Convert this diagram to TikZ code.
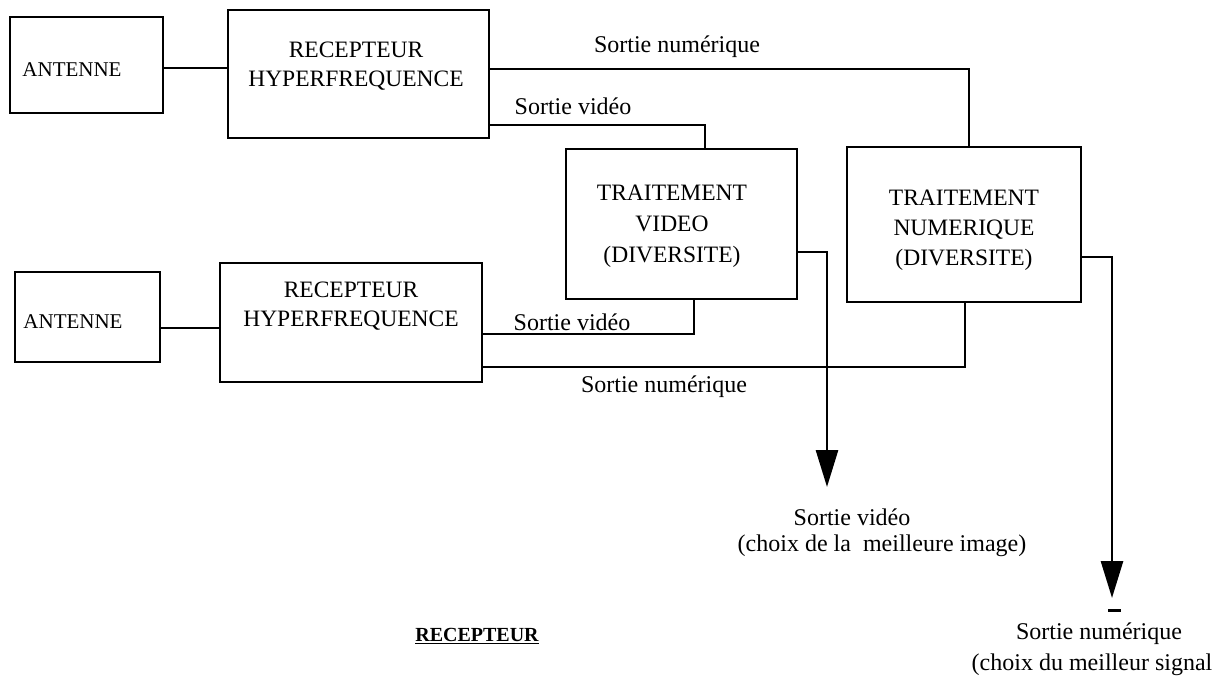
\documentclass[tikz,border=0pt]{standalone}
\usepackage{fontspec}
\setmainfont{Liberation Serif}
\usetikzlibrary{arrows.meta}
\begin{document}
\begin{tikzpicture}[x=1pt,y=-1pt,
  box/.style={draw, line width=2.8pt, inner sep=0pt},
  wire/.style={line width=2.8pt, line join=miter},
  lbl/.style={font=\fontsize{24}{28}\selectfont, inner sep=0pt},
  btxt/.style={font=\fontsize{23.5}{29}\selectfont, align=center, inner sep=0pt},
  arr/.style={wire, -{Triangle[length=37pt,width=22pt]}}]
\useasboundingbox (0,0) rectangle (1224,680);
% boxes
\node[box, minimum width=153pt, minimum height=96pt] (ant1) at (86.5,65) {};
\node[box, minimum width=261pt, minimum height=128pt] (rec1) at (358.5,74) {};
\node[box, minimum width=145pt, minimum height=90pt] (ant2) at (87.5,317) {};
\node[box, minimum width=262pt, minimum height=119pt] (rec2) at (351,322.5) {};
\node[box, minimum width=231pt, minimum height=150pt] (vid) at (681.5,224) {};
\node[box, minimum width=234pt, minimum height=155pt] (num) at (964,224.5) {};
% box texts
\node[btxt, font=\fontsize{21}{29}\selectfont] (ant1t) at (72,70) {ANTENNE};
\node[btxt] (rec1t) at (356,66) {RECEPTEUR\\HYPERFREQUENCE};
\node[btxt, font=\fontsize{21}{29}\selectfont] (ant2t) at (73,322) {ANTENNE};
\node[btxt] (rec2t) at (351,306) {RECEPTEUR\\HYPERFREQUENCE};
\node[btxt, font=\fontsize{23.5}{31}\selectfont] (vidt) at (672,226) {TRAITEMENT\\VIDEO\\(DIVERSITE)};
\node[btxt, font=\fontsize{23.5}{30}\selectfont] (numt) at (964,230) {TRAITEMENT\\NUMERIQUE\\(DIVERSITE)};
% helper coordinates
\path ([yshift=-3pt]ant1.east) coordinate (a1);
\path ([yshift=-11pt]ant2.east) coordinate (a2);
\coordinate (n1) at (969,69);
\coordinate (v1) at (705,125);
\coordinate (v2) at (694,334);
\coordinate (n2) at (965,367);
\coordinate (vo) at (827,252);
\coordinate (vt) at (827,487);
\coordinate (no) at (1112,257);
\coordinate (nt) at (1112,598);
\coordinate (bl) at (1108,610);
\coordinate (br) at (1121,610);
% connectors
\draw[wire] (a1) -- (a1 -| rec1.west);
\draw[wire] (a2) -- (a2 -| rec2.west);
\draw[wire] (rec1.east |- n1) -- (n1) -- (n1 |- num.north);
\draw[wire] (rec1.east |- v1) -- (v1) -- (v1 |- vid.north);
\draw[wire] (v2 |- vid.south) -- (v2) -- (v2 -| rec2.east);
\draw[wire] (n2 |- num.south) -- (n2) -- (n2 -| rec2.east);
\draw[arr] (vid.east |- vo) -- (vo) -- (vt);
\draw[arr] (num.east |- no) -- (no) -- (nt);
\draw[line width=3pt] (bl) -- (br);
% labels
\node[lbl] (l1) at (677,47) {Sortie numérique};
\node[lbl] (l2) at (573,106) {Sortie vidéo};
\node[lbl] (l3) at (572,322) {Sortie vidéo};
\node[lbl] (l4) at (664,387) {Sortie numérique};
\node[lbl] (l5) at (852,517) {Sortie vidéo};
\node[lbl] (l6) at (882,546) {(choix de la \ meilleure image)};
\node[lbl] (l7) at (1099,634) {Sortie numérique};
\node[lbl] (l8) at (1092,665) {(choix du meilleur signal};
\node[font=\fontsize{20}{24}\selectfont\bfseries, inner sep=0pt] (titre) at (477,636) {\underline{RECEPTEUR}};
\end{tikzpicture}
\end{document}
